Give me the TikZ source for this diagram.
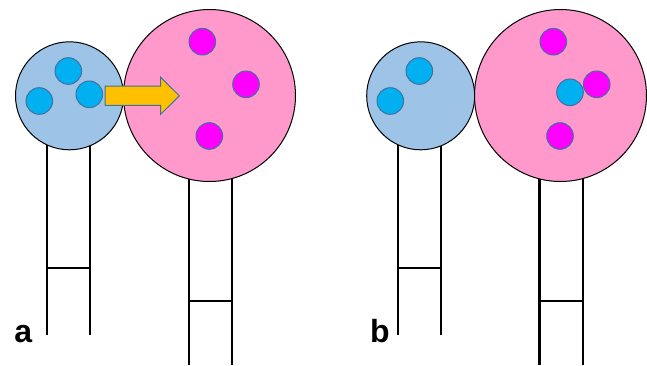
\documentclass[tikz,border=0pt]{standalone}
\usepackage{fontspec}
\setsansfont{Liberation Sans}
\definecolor{cellblue}{HTML}{9DC3E6}
\definecolor{cellpink}{HTML}{FF99CC}
\definecolor{dotblue}{HTML}{00B0F0}
\definecolor{dotpink}{HTML}{FF00FF}
\definecolor{rimblue}{HTML}{41719C}
\definecolor{arrowgold}{HTML}{FFC000}
\tikzset{
  stem/.style={line width=1.7pt, color=black},
  cell/.style={draw=black, line width=0.75pt},
  bluedot/.style={draw=rimblue, line width=0.75pt, fill=dotblue},
  pinkdot/.style={draw=rimblue, line width=0.75pt, fill=dotpink},
  panellabel/.style={anchor=base, inner sep=0pt, font=\sffamily\bfseries\fontsize{24}{28}\selectfont}
}

\begin{document}
\begin{tikzpicture}[x=0.75pt,y=0.75pt,yscale=-1,xscale=1]
	\useasboundingbox (0,0) rectangle (647,365);
	
	%Stems: panel a
	\draw [stem] (46.7,140) -- (46.7,335) (90,140) -- (90,335) (46.7,268.3) -- (90,268.3) ;
	\draw [stem] (189,170) -- (189,365) (232.3,170) -- (232.3,365) (189,301) -- (232.3,301) ;
	%Stems: panel b
	\draw [stem] (397.7,140) -- (397.7,335) (440.7,140) -- (440.7,335) (397.7,268.3) -- (440.7,268.3) ;
	\draw [stem] (539.5,170) -- (539.5,365) (582.7,170) -- (582.7,365) (539.5,301) -- (582.7,301) ;
	
	%Shape: Circle (small cell a)
	\draw [cell, fill=cellblue] (69.5,95.8) circle (54) ;
	%Shape: Circle (big cell a)
	\draw [cell, fill=cellpink] (209.5,95.5) circle (86) ;
	%Shape: Circle (small cell b)
	\draw [cell, fill=cellblue] (420.7,95.8) circle (54) ;
	%Shape: Circle (big cell b)
	\draw [cell, fill=cellpink] (560.5,95.5) circle (86) ;
	
	%Dots: panel a
	\draw [bluedot] (68.3,71) circle (13.3) ;
	\draw [bluedot] (39.3,101) circle (13.3) ;
	\draw [bluedot] (89.3,94.3) circle (13.3) ;
	\draw [pinkdot] (202.3,41.7) circle (13.3) ;
	\draw [pinkdot] (246,84.3) circle (13.3) ;
	\draw [pinkdot] (209.3,136) circle (13.3) ;
	%Dots: panel b
	\draw [bluedot] (419.3,71) circle (13.3) ;
	\draw [bluedot] (390.3,101) circle (13.3) ;
	\draw [pinkdot] (553.3,41.7) circle (13.3) ;
	\draw [pinkdot] (596.7,84.3) circle (13.3) ;
	\draw [bluedot] (570,92.3) circle (13.3) ;
	\draw [pinkdot] (560,136) circle (13.3) ;
	
	%Shape: Right Arrow
	\draw [draw=rimblue, line width=0.75pt, fill=arrowgold] (105,86) -- (160.7,86) -- (160.7,77.3) -- (179.3,95.8) -- (160.7,114.3) -- (160.7,105.3) -- (105,105.3) -- cycle ;
	
	% Text Node
	\node (lbla) [panellabel] at (23.3,342.3) {a};
	% Text Node
	\node (lblb) [panellabel] at (379.8,342.3) {b};
	
\end{tikzpicture}
\end{document}
